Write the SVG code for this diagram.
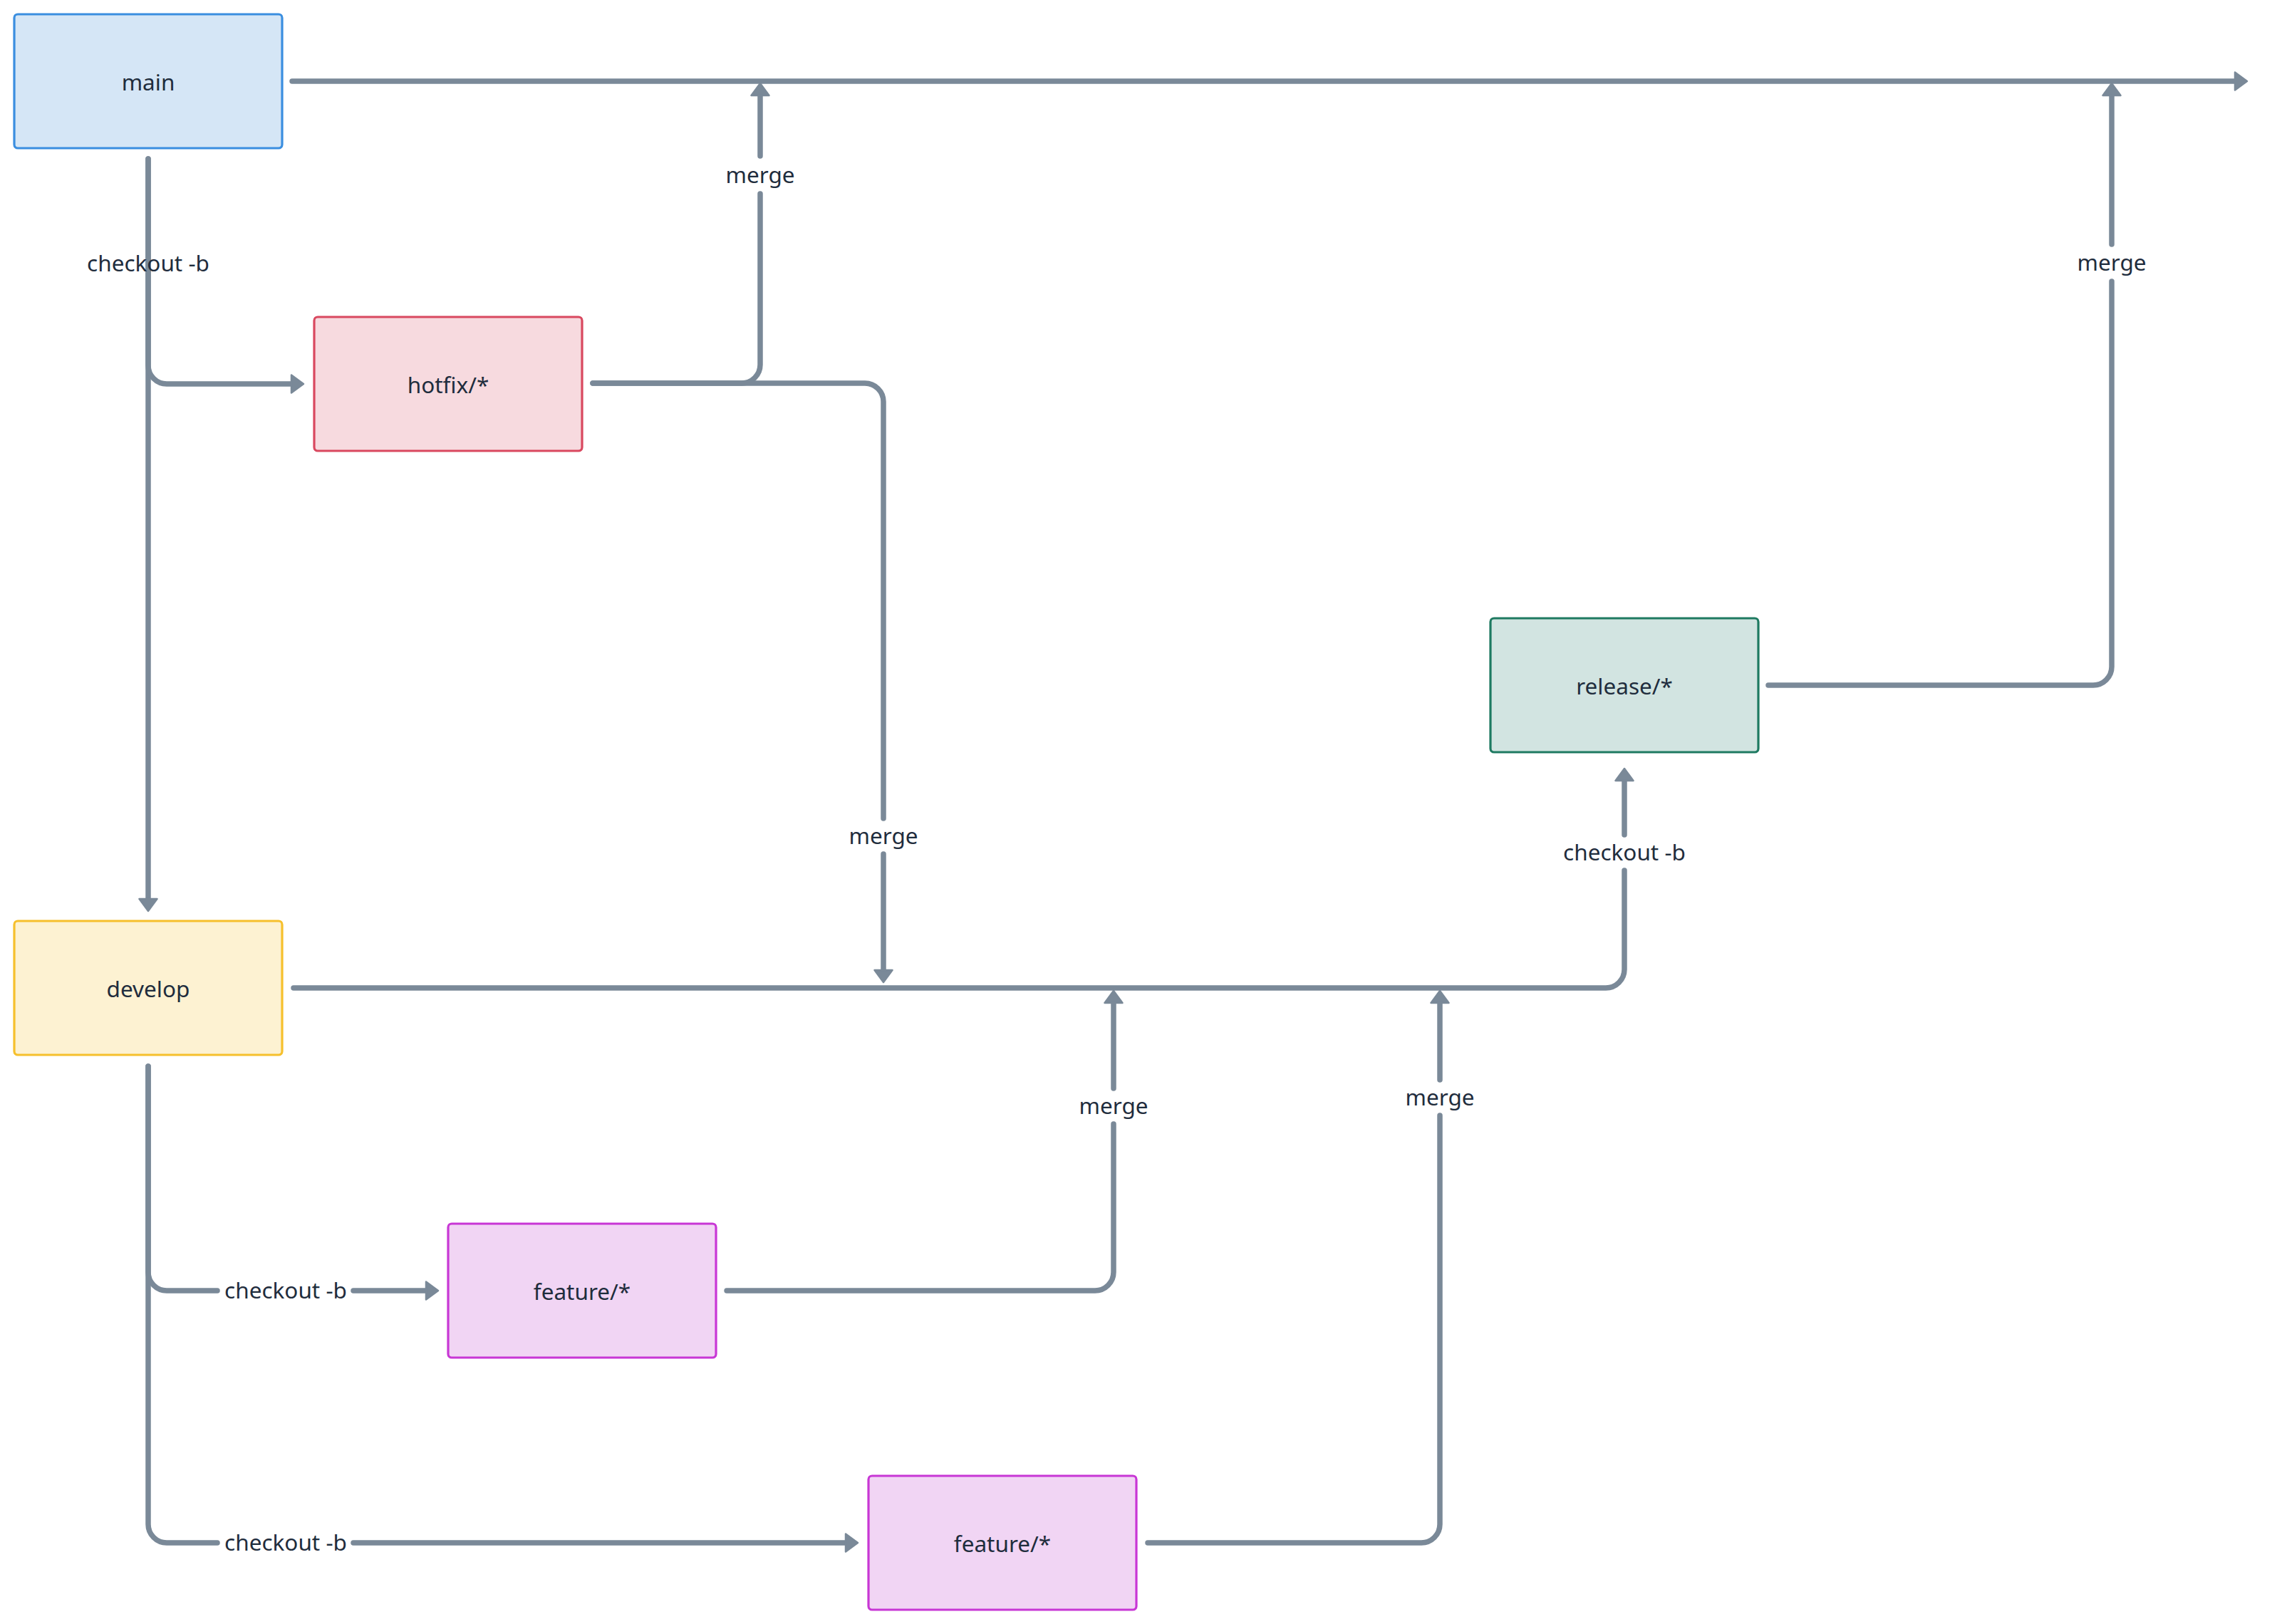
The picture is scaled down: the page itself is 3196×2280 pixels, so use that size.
<svg xmlns="http://www.w3.org/2000/svg" width="3196" height="2280" viewBox="0 0 3196 2280">
<defs>
<marker id="arrow" markerUnits="userSpaceOnUse" markerWidth="30" markerHeight="32" refX="1" refY="14" orient="auto" overflow="visible">
<path d="M1,1.5 L18,14 L1,26.5 Z" fill="#7a8998" stroke="#7a8998" stroke-width="2.5" stroke-linejoin="round"/>
</marker>
<style>
.node rect{stroke-width:3.2}
.node text,.lbl{font-family:"Noto Sans","Open Sans","DejaVu Sans",sans-serif;font-size:31.5px;fill:#1f2d3d;text-anchor:middle}
.edge{fill:none;stroke:#7a8998;stroke-width:7.5;stroke-linecap:round;stroke-linejoin:round}
.arr{marker-end:url(#arrow)}
</style>
</defs>
<rect x="0" y="0" width="3196" height="2280" fill="#ffffff"/>
<g id="connectors">
<path class="edge arr" d="M410,114 H3137"/>
<path class="edge arr" d="M208,223 V1262"/>
<path class="edge arr" d="M208,223 V513 A26,26 0 0 0 234,539 H409"/>
<path class="edge arr" d="M832,538 H1041 A26,26 0 0 0 1067,512 V272 M1067,219 V134"/>
<path class="edge arr" d="M832,538 H1214 A26,26 0 0 1 1240,564 V1149 M1240,1199 V1362"/>
<path class="edge arr" d="M2482,962 H2938 A26,26 0 0 0 2964,936 V395 M2964,343 V134"/>
<path class="edge arr" d="M412,1387 H2254 A26,26 0 0 0 2280,1361 V1222 M2280,1172 V1096"/>
<path class="edge arr" d="M1020,1812 H1537 A26,26 0 0 0 1563,1786 V1578 M1563,1528 V1408"/>
<path class="edge arr" d="M1611,2166 H1995 A26,26 0 0 0 2021,2140 V1566 M2021,1516 V1408"/>
<path class="edge arr" d="M208,1497 V1786 A26,26 0 0 0 234,1812 H305 M496,1812 H598"/>
<path class="edge arr" d="M208,1497 V2140 A26,26 0 0 0 234,2166 H305 M496,2166 H1187"/>
<text class="lbl" x="208" y="381">checkout -b</text>
<text class="lbl" x="1067" y="257">merge</text>
<text class="lbl" x="1240" y="1185">merge</text>
<text class="lbl" x="2964" y="380">merge</text>
<text class="lbl" x="2280" y="1208">checkout -b</text>
<text class="lbl" x="1563" y="1564">merge</text>
<text class="lbl" x="2021" y="1552">merge</text>
<text class="lbl" x="401" y="1823">checkout -b</text>
<text class="lbl" x="401" y="2177">checkout -b</text>
</g>
<g id="node-main" class="node">
<rect x="20" y="20" width="376" height="188" rx="5" fill="#d5e6f6" stroke="#3a8ee0"/>
<text x="208" y="127">main</text>
</g>
<g id="node-hotfix" class="node">
<rect x="441" y="445" width="376" height="188" rx="5" fill="#f7dadf" stroke="#d9485f"/>
<text x="629" y="552">hotfix/*</text>
</g>
<g id="node-release" class="node">
<rect x="2092" y="868" width="376" height="188" rx="5" fill="#d2e4e1" stroke="#1e7a61"/>
<text x="2280" y="975">release/*</text>
</g>
<g id="node-develop" class="node">
<rect x="20" y="1293" width="376" height="188" rx="5" fill="#fdf2d2" stroke="#f6c02c"/>
<text x="208" y="1400">develop</text>
</g>
<g id="node-feature1" class="node">
<rect x="629" y="1718" width="376" height="188" rx="5" fill="#f1d5f4" stroke="#c837d5"/>
<text x="817" y="1825">feature/*</text>
</g>
<g id="node-feature2" class="node">
<rect x="1219" y="2072" width="376" height="188" rx="5" fill="#f1d5f4" stroke="#c837d5"/>
<text x="1407" y="2179">feature/*</text>
</g>
</svg>
